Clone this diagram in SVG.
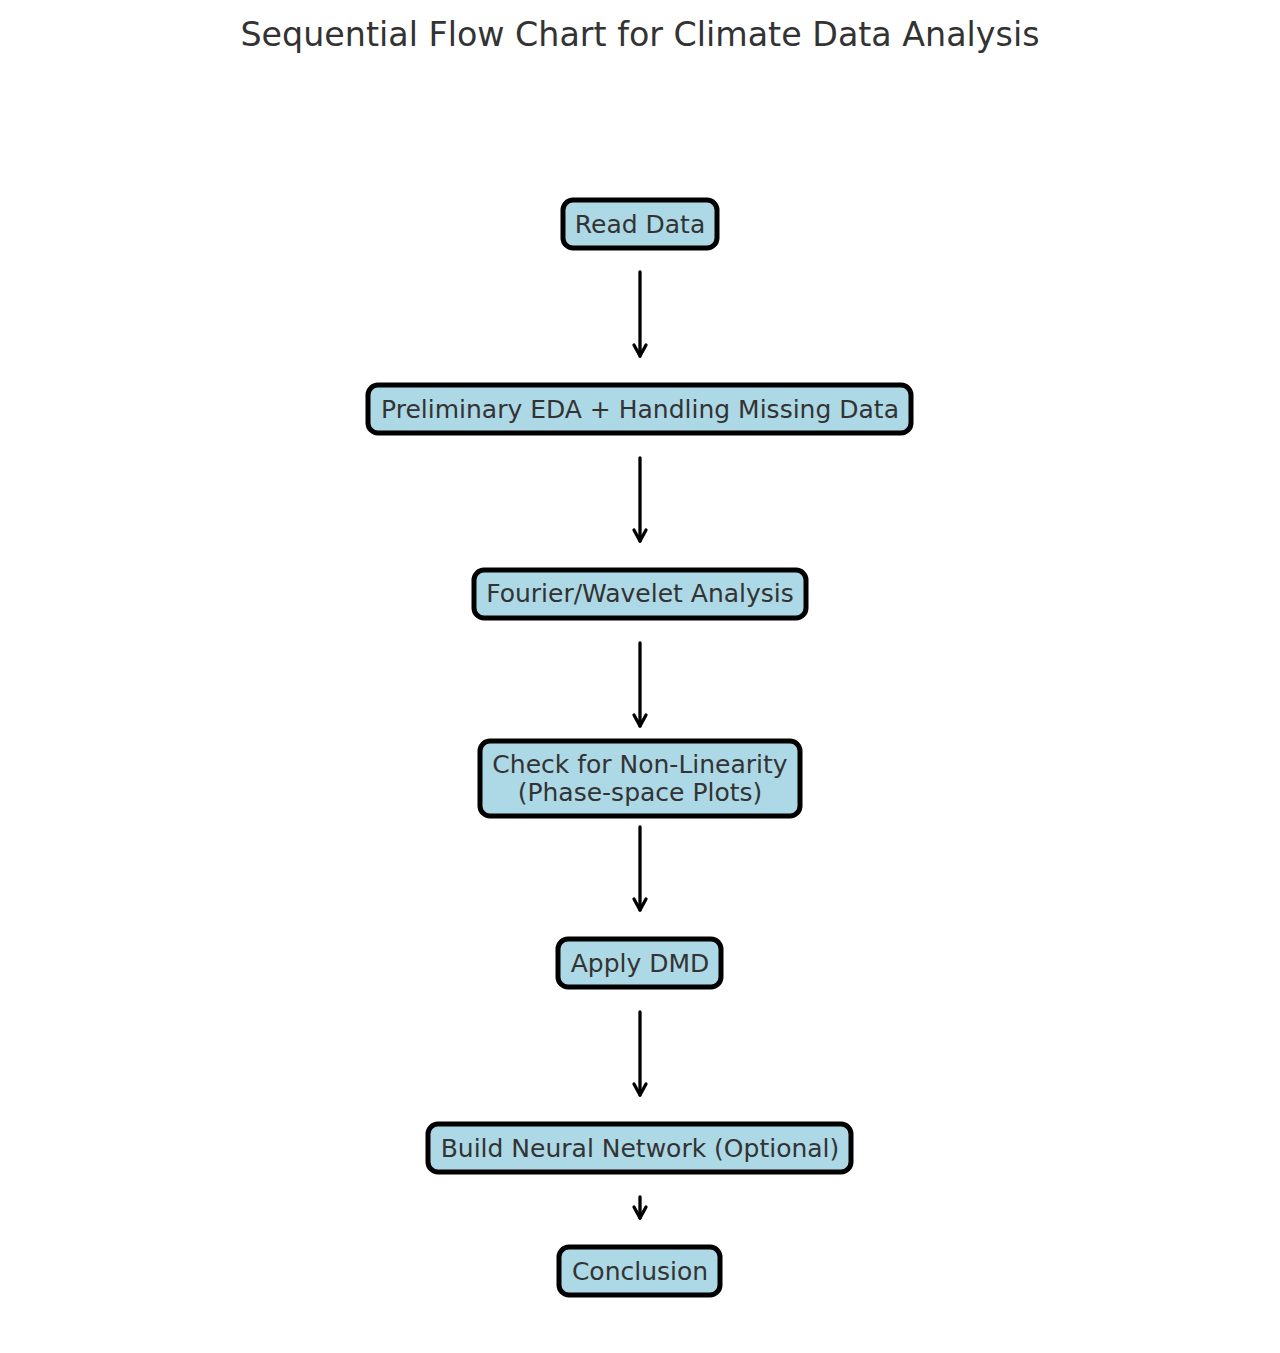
<svg xmlns="http://www.w3.org/2000/svg" width="1280" height="1353" viewBox="0 0 1280 1353">
<style>
.box{fill:#add8e6;stroke:#000;stroke-width:5}
.lbl{font-family:"DejaVu Sans",sans-serif;font-size:25px;fill:#333;text-anchor:middle}
.title{font-family:"DejaVu Sans",sans-serif;font-size:33.3px;fill:#333;text-anchor:middle}
.conn{stroke:#000;stroke-width:3.3;fill:none;stroke-linecap:round}
.head{stroke:#000;stroke-width:3.3;fill:none;stroke-linecap:round;stroke-linejoin:round}
</style>
<rect width="1280" height="1353" fill="#fff"/>
<text class="title" x="640" y="46">Sequential Flow Chart for Climate Data Analysis</text>
<g id="connectors">
<path class="conn" d="M640 272V356"/><path class="head" d="M634 345L640 356L646 345"/>
<path class="conn" d="M640 458V541"/><path class="head" d="M634 530L640 541L646 530"/>
<path class="conn" d="M640 643V726"/><path class="head" d="M634 715L640 726L646 715"/>
<path class="conn" d="M640 827V910"/><path class="head" d="M634 899L640 910L646 899"/>
<path class="conn" d="M640 1012V1095"/><path class="head" d="M634 1084L640 1095L646 1084"/>
<path class="conn" d="M640 1197V1218"/><path class="head" d="M634 1207L640 1218L646 1207"/>
</g>
<g id="n1"><rect class="box" x="563" y="200" width="154" height="48" rx="10"/><text class="lbl" x="640" y="233">Read Data</text></g>
<g id="n2"><rect class="box" x="368" y="385" width="543" height="48" rx="10"/><text class="lbl" x="640" y="418">Preliminary EDA + Handling Missing Data</text></g>
<g id="n3"><rect class="box" x="474" y="570" width="332" height="48" rx="10"/><text class="lbl" x="640" y="602">Fourier/Wavelet Analysis</text></g>
<g id="n4"><rect class="box" x="480" y="741" width="320" height="75" rx="10"/><text class="lbl" x="640" y="773">Check for Non-Linearity</text><text class="lbl" x="640" y="801">(Phase-space Plots)</text></g>
<g id="n5"><rect class="box" x="558" y="939" width="163" height="48" rx="10"/><text class="lbl" x="640" y="972">Apply DMD</text></g>
<g id="n6"><rect class="box" x="428" y="1124" width="423" height="48" rx="10"/><text class="lbl" x="640" y="1157">Build Neural Network (Optional)</text></g>
<g id="n7"><rect class="box" x="559" y="1247" width="161" height="48" rx="10"/><text class="lbl" x="640" y="1280">Conclusion</text></g>
</svg>
